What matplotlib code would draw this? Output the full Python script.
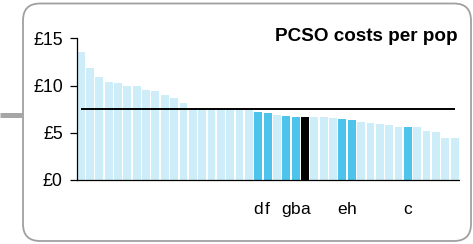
import matplotlib

matplotlib.use("Agg")
import matplotlib.pyplot as plt
from matplotlib.patches import FancyBboxPatch

plt.rcParams["font.family"] = ["Liberation Sans", "DejaVu Sans"]

# ── data ───────────────────────────────────────────────────────────────────
costs = [13.6, 11.9, 10.95, 10.4, 10.3, 10.0, 10.0, 9.55, 9.45, 9.05, 8.7, 8.1,
         7.5, 7.5, 7.5, 7.5, 7.5, 7.5, 7.45,
         7.2, 7.1, 6.9, 6.8, 6.7, 6.7, 6.7, 6.7, 6.6, 6.45, 6.35, 6.15, 6.05,
         5.95, 5.85, 5.6, 5.6, 5.6, 5.2, 5.1, 4.45, 4.45]
highlight = {19: "d", 20: "f", 22: "g", 23: "b", 24: "a", 28: "e", 29: "h", 35: "c"}
own_force = 24
average = 7.5
y_ticks = [0, 5, 10, 15]
y_labels = ["£0", "£5", "£10", "£15"]
title = "PCSO costs per pop"

LIGHT = "#cdedf9"
MID = "#4ec3ec"

W, H = 473, 244
fig = plt.figure(figsize=(W / 100, H / 100), dpi=100)

# frame in pixel coordinates
bg = fig.add_axes([0, 0, 1, 1], zorder=0)
bg.set_xlim(0, W)
bg.set_ylim(H, 0)
bg.axis("off")
bg.add_patch(FancyBboxPatch((23, 3.5), 448, 237.5,
                            boxstyle="round,pad=0,rounding_size=17",
                            facecolor="white", edgecolor="#a0a0a0", linewidth=1.3))
bg.plot([0, 23], [115, 115], color="#a6a6a6", linewidth=3.6, solid_capstyle="butt")
bg.text(458, 41, title, ha="right", va="baseline", fontsize=13.6, fontweight="bold")

# chart
ax = fig.add_axes([76.7 / W, 64 / H, 381.8 / W, 141.7 / H], zorder=1)
ax.patch.set_alpha(0)
xs = list(range(len(costs)))
colors = ["black" if i == own_force else MID if i in highlight else LIGHT for i in xs]
w = 0.84
ax.bar(xs, costs, width=w, color=colors, linewidth=0)
ax.hlines(average, xs[0], xs[-1], color="black", linewidth=1.4, zorder=3)

ax.set_xlim(-w / 2, xs[-1] + w / 2)
ax.set_ylim(0, 15)
for s in ("top", "right"):
    ax.spines[s].set_visible(False)
for s in ("left", "bottom"):
    ax.spines[s].set_linewidth(0.9)

ax.set_yticks(y_ticks)
ax.set_yticklabels(y_labels, fontsize=12.8)
ax.tick_params(axis="y", length=5, width=0.9, pad=5)
ax.set_xticks(list(highlight.keys()))
ax.set_xticklabels(list(highlight.values()), fontsize=12.5)
ax.tick_params(axis="x", length=0, pad=16)

fig.savefig("out.png", dpi=100)
